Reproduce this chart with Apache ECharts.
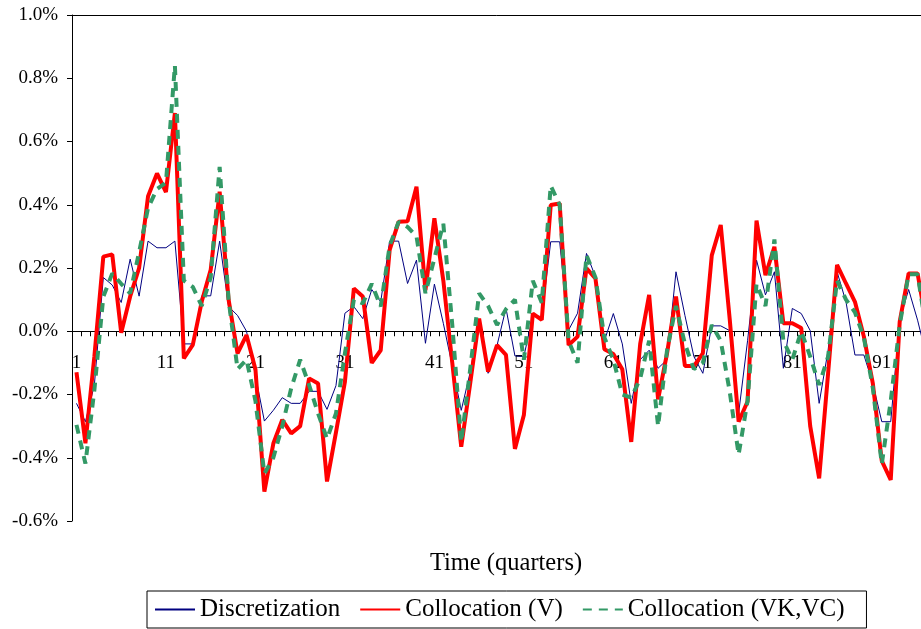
<!DOCTYPE html>
<html>
<head>
<meta charset="utf-8">
<script src="https://cdn.jsdelivr.net/npm/echarts@6/dist/echarts.min.js"></script>
<style>
html,body{margin:0;padding:0;background:#fff;}
#chart{width:921px;height:629px;}
</style>
</head>
<body>
<div id="chart"></div>
<script>
// Time (quarters) categories
const quarters = Array.from({length: 96}, (_, i) => String(i + 1));

// values in percent
const discretization = [
 -0.228,-0.286,-0.17,0.17,0.146,0.091,0.228,0.111,0.285,0.264,
 0.264,0.285,-0.04,-0.04,0.112,0.112,0.285,0.078,0.05,0.0,
 -0.14,-0.284,-0.25,-0.21,-0.228,-0.228,-0.19,-0.19,-0.247,-0.172,
 0.057,0.078,0.04,0.132,0.093,0.285,0.285,0.151,0.225,-0.038,
 0.149,0.025,-0.11,-0.25,-0.13,0.03,-0.133,-0.045,0.073,-0.078,
 -0.08,0.05,0.046,0.283,0.283,0.004,0.057,0.246,0.172,-0.03,
 0.056,-0.04,-0.228,-0.09,-0.06,-0.117,-0.09,0.188,0.05,-0.08,
 -0.133,0.017,0.017,0.002,-0.26,-0.03,0.225,0.115,0.188,-0.117,
 0.072,0.056,0.002,-0.228,-0.06,0.188,0.093,-0.075,-0.075,-0.165,
 -0.286,-0.286,0.035,0.132,0.035,-0.08
];

const collocationV = [
 -0.13,-0.354,-0.08,0.236,0.243,-0.005,0.11,0.20,0.427,0.499,
 0.44,0.69,-0.086,-0.043,0.094,0.194,0.441,0.10,-0.07,-0.012,
 -0.12,-0.507,-0.355,-0.28,-0.323,-0.30,-0.149,-0.165,-0.475,-0.32,
 -0.16,0.135,0.11,-0.10,-0.06,0.257,0.346,0.348,0.457,0.13,
 0.357,0.16,-0.10,-0.365,-0.165,0.04,-0.128,-0.044,-0.075,-0.372,
 -0.265,0.056,0.036,0.399,0.404,-0.044,-0.017,0.199,0.167,-0.057,
 -0.072,-0.12,-0.35,-0.04,0.115,-0.215,-0.07,0.11,-0.11,-0.11,
 -0.07,0.24,0.336,0.04,-0.286,-0.222,0.35,0.177,0.267,0.025,
 0.025,0.01,-0.30,-0.465,-0.133,0.21,0.151,0.093,-0.017,-0.165,
 -0.41,-0.47,0.03,0.183,0.183,0.02
];

const collocationVKVC = [
 -0.296,-0.418,-0.186,0.109,0.183,0.15,0.12,0.25,0.39,0.45,
 0.47,0.84,0.16,0.14,0.08,0.17,0.52,0.10,-0.12,-0.09,
 -0.22,-0.45,-0.40,-0.30,-0.18,-0.09,-0.17,-0.26,-0.34,-0.26,
 -0.07,0.10,0.088,0.15,0.078,0.27,0.346,0.33,0.30,0.12,
 0.23,0.34,0.02,-0.35,-0.12,0.12,0.08,0.02,0.07,0.10,
 -0.09,0.16,0.09,0.46,0.40,-0.03,-0.10,0.24,0.17,-0.02,
 -0.09,-0.20,-0.21,-0.15,-0.03,-0.30,-0.06,0.08,-0.04,-0.12,
 -0.10,0.02,-0.03,-0.19,-0.39,-0.22,0.15,0.08,0.29,-0.03,
 -0.09,0.0,-0.08,-0.17,-0.08,0.16,0.10,0.06,-0.02,-0.18,
 -0.42,-0.22,0.02,0.18,0.18,0.0
];

const seriesNames = ['Discretization', 'Collocation (V)', 'Collocation (VK,VC)'];
const yMin = -0.6, yMax = 1.0, yStep = 0.2;

const FONT = '"Liberation Serif", "Times New Roman", serif';
const gridTop = 15, gridHeight = 506;
// shift the category axis from the bottom of the grid up to the zero line
const zeroOffset = -((0 - yMin) / (yMax - yMin)) * gridHeight;

const chart = echarts.init(document.getElementById('chart'), null, {renderer: 'canvas'});

chart.setOption({
  animation: false,
  backgroundColor: '#ffffff',
  title: {
    text: 'Time (quarters)',
    left: 501,
    top: 546,
    textAlign: 'center',
    textStyle: {fontFamily: FONT, fontSize: 24.5, fontWeight: 'normal', color: '#000'}
  },
  legend: {
    data: seriesNames,
    left: 147,
    top: 591,
    padding: [6, 22, 6, 7],
    itemGap: 19,
    itemWidth: 40,
    itemHeight: 14,
    borderColor: '#000',
    borderWidth: 1,
    itemStyle: {opacity: 0},
    textStyle: {fontFamily: FONT, fontSize: 25, color: '#000'}
  },
  grid: {left: 72, top: gridTop, width: 859, height: gridHeight, containLabel: false, outerBoundsMode: 'none'},
  xAxis: [{
    type: 'category',
    data: quarters,
    boundaryGap: true,
    offset: zeroOffset,
    axisLine: {onZero: false, lineStyle: {color: '#000', width: 1}},
    axisTick: {show: true, interval: 0, length: 5, lineStyle: {color: '#000'}},
    axisLabel: {interval: 9, margin: 22, fontFamily: FONT, fontSize: 19, color: '#000'},
    splitLine: {show: false}
  }, {
    type: 'category',
    data: quarters,
    position: 'top',
    axisLine: {show: true, onZero: false, lineStyle: {color: '#000', width: 1}},
    axisTick: {show: false},
    axisLabel: {show: false},
    splitLine: {show: false}
  }],
  yAxis: {
    type: 'value',
    min: yMin,
    max: yMax,
    interval: yStep,
    axisLine: {show: true, onZero: false, lineStyle: {color: '#000', width: 1}},
    axisTick: {show: true, length: 5, lineStyle: {color: '#000'}},
    axisLabel: {
      margin: 14,
      fontFamily: FONT, fontSize: 19, color: '#000',
      formatter: v => v.toFixed(1) + '%'
    },
    splitLine: {show: false}
  },
  series: [{
    name: seriesNames[0],
    type: 'line',
    data: discretization,
    symbol: 'none',
    lineStyle: {color: '#000080', width: 1},
    itemStyle: {color: '#000080'},
    z: 2
  }, {
    name: seriesNames[1],
    type: 'line',
    data: collocationV,
    symbol: 'none',
    lineStyle: {color: '#ff0000', width: 4},
    itemStyle: {color: '#ff0000'},
    z: 3
  }, {
    name: seriesNames[2],
    type: 'line',
    data: collocationVKVC,
    symbol: 'none',
    lineStyle: {color: '#339966', width: 4, type: [9, 7]},
    itemStyle: {color: '#339966'},
    z: 4
  }]
});
</script>
</body>
</html>
